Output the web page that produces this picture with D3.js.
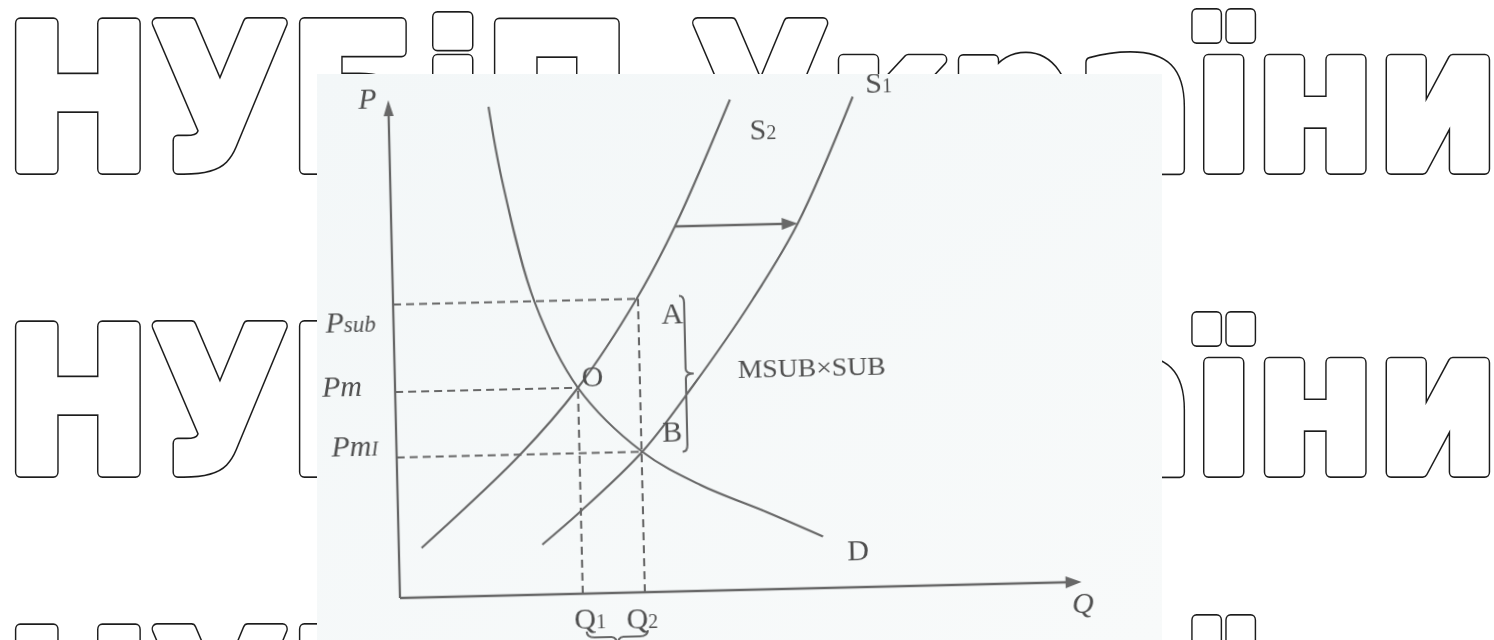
<!DOCTYPE html>
<html>
<head>
<meta charset="utf-8">
<script src="https://cdn.jsdelivr.net/npm/d3@7"></script>
<style>
  html, body { margin: 0; padding: 0; background: #ffffff; }
  svg { display: block; }
</style>
</head>
<body>
<svg id="chart" width="1494" height="640"></svg>
<script>
// ---- Data (quantity Q, price P, in chart units 0–10) ----
const supplyS2 = [[0.33, 0.99], [1.79, 2.81], [2.65, 4.12], [3.53, 5.87], [4.11, 7.30], [4.95, 9.81]];
const supplyS1 = [[2.08, 1.00], [2.64, 1.64], [3.56, 2.81], [4.32, 4.11], [5.21, 5.80], [5.89, 7.30], [6.73, 9.81]];
const demandD  = [[1.45, 9.78], [1.62, 8.31], [2.05, 5.86], [2.65, 4.12], [3.56, 2.81], [4.39, 2.12], [5.35, 1.54], [6.15, 1.03]];

const priceNames   = ["Psub", "Pm", "Pm1"];
const priceValues  = [5.87, 4.12, 2.81];
const quantityNames  = ["Q1", "Q2"];
const quantityValues = [2.65, 3.55];

// supply shift arrow: from S2 to S1 at this price
const shiftPrice = 7.30;
const shiftFromTo = [4.11, 5.89];

const axisMax = [9.88, 9.96];   // Q axis length, P axis length
const watermarkText = "НУБіП України";
const watermarkBaselines = [169, 472, 775];

// ---- Layout ----
const svg = d3.select("#chart");
const x = d3.scaleLinear().domain([0, 10]).range([400, 1090]);
const y = d3.scaleLinear().domain([0, 10]).range([598, 98]);

const ink = "#676767";
const textInk = "#505050";

// watermark lettering: a thin outline offset around each glyph, with rounded corners
const wmSize = 199, wmPad = 6, wmLine = 1.7;
const wm = svg.append("g").attr("class", "watermark");
watermarkBaselines.forEach(b => {
  const row = wm.append("g");
  const outer = row.append("text")
    .attr("x", 0).attr("y", b)
    .attr("font-family", "DejaVu Sans").attr("font-weight", "bold")
    .attr("font-size", wmSize)
    .attr("fill", "#1c1c1c").attr("stroke", "#1c1c1c")
    .attr("stroke-width", 2 * wmPad).attr("stroke-linejoin", "round")
    .text(watermarkText);
  row.append("text")
    .attr("x", 0).attr("y", b)
    .attr("font-family", "DejaVu Sans").attr("font-weight", "bold")
    .attr("font-size", wmSize)
    .attr("fill", "#ffffff").attr("stroke", "#ffffff")
    .attr("stroke-width", 2 * (wmPad - wmLine)).attr("stroke-linejoin", "round")
    .text(watermarkText);
  const bb = outer.node().getBBox();
  const bear = 0.09 * wmSize;
  const sx = (1476 - 2 * wmPad) / (bb.width - 2 * bear);
  const tx = 14 + wmPad - bear * sx;
  row.attr("transform", `translate(${tx},0) scale(${sx},1)`);
});

// scanned panel
svg.append("defs").html(`
  <clipPath id="panelClip"><rect x="317" y="74" width="845" height="566"/></clipPath>
  <linearGradient id="panelFill" x1="0" y1="0" x2="1" y2="1">
    <stop offset="0" stop-color="#f3f7f8"/>
    <stop offset="1" stop-color="#f8fafa"/>
  </linearGradient>
  <filter id="soft" x="-5%" y="-5%" width="110%" height="110%">
    <feGaussianBlur stdDeviation="0.55"/>
  </filter>`);

svg.append("rect")
  .attr("x", 317).attr("y", 74).attr("width", 845).attr("height", 566)
  .attr("fill", "url(#panelFill)");

const panel = svg.append("g").attr("clip-path", "url(#panelClip)");
const g = panel.append("g")
  .attr("filter", "url(#soft)")
  .attr("transform", `rotate(-1.35, ${x(0)}, ${y(0)})`);

// axes
g.append("line")
  .attr("x1", x(0)).attr("y1", y(0)).attr("x2", x(0)).attr("y2", y(axisMax[1]) + 6)
  .attr("stroke", ink).attr("stroke-width", 2.3);
g.append("line")
  .attr("x1", x(0)).attr("y1", y(0)).attr("x2", x(axisMax[0]) - 6).attr("y2", y(0))
  .attr("stroke", ink).attr("stroke-width", 2.3);

function arrowUp(px, py) {
  return `M${px},${py} L${px - 5},${py + 16} L${px + 5},${py + 16} Z`;
}
function arrowRight(px, py) {
  return `M${px},${py} L${px - 16},${py - 6} L${px - 16},${py + 6} Z`;
}
g.append("path").attr("d", arrowUp(x(0), y(axisMax[1]))).attr("fill", ink);
g.append("path").attr("d", arrowRight(x(axisMax[0]), y(0))).attr("fill", ink);

// dashed guide lines
const dash = "8,5";
const guideEnds = [quantityValues[1], quantityValues[0], quantityValues[1]];
priceValues.forEach((p, i) => {
  g.append("line")
    .attr("x1", x(0)).attr("y1", y(p)).attr("x2", x(guideEnds[i])).attr("y2", y(p))
    .attr("stroke", ink).attr("stroke-width", 2.1).attr("stroke-dasharray", dash);
});
const guideTops = [priceValues[1], priceValues[0]];
quantityValues.forEach((q, i) => {
  g.append("line")
    .attr("x1", x(q)).attr("y1", y(0)).attr("x2", x(q)).attr("y2", y(guideTops[i]))
    .attr("stroke", ink).attr("stroke-width", 2.1).attr("stroke-dasharray", dash);
});

// curves
const line = d3.line().x(d => x(d[0])).y(d => y(d[1])).curve(d3.curveCatmullRom.alpha(0.5));
[supplyS2, supplyS1, demandD].forEach(s => {
  g.append("path").attr("d", line(s))
    .attr("fill", "none").attr("stroke", ink).attr("stroke-width", 2.1);
});

// supply shift arrow
g.append("line")
  .attr("x1", x(shiftFromTo[0])).attr("y1", y(shiftPrice))
  .attr("x2", x(shiftFromTo[1]) - 10).attr("y2", y(shiftPrice))
  .attr("stroke", ink).attr("stroke-width", 2.3);
g.append("path").attr("d", arrowRight(x(shiftFromTo[1]), y(shiftPrice))).attr("fill", ink);

// curly brace between A and B
function braceV(x0, yTop, yBot, r, d) {
  const ym = (yTop + yBot) / 2;
  return `M${x0},${yTop} Q${x0 + r},${yTop} ${x0 + r},${yTop + r + 2}
          L${x0 + r},${ym - r} Q${x0 + r},${ym} ${x0 + d},${ym}
          Q${x0 + r},${ym} ${x0 + r},${ym + r}
          L${x0 + r},${yBot - r - 2} Q${x0 + r},${yBot} ${x0},${yBot}`;
}
const braceX = x(quantityValues[1]) + 41;
g.append("path")
  .attr("d", braceV(braceX, y(priceValues[0]) - 2, y(priceValues[2]) + 1, 5, 13))
  .attr("fill", "none").attr("stroke", ink).attr("stroke-width", 2.1);

// brace under Q1–Q2
function braceH(x0, x1, yTop, r, d) {
  const xm = (x0 + x1) / 2;
  return `M${x0},${yTop} Q${x0},${yTop + r} ${x0 + r + 2},${yTop + r}
          L${xm - r},${yTop + r} Q${xm},${yTop + r} ${xm},${yTop + d}
          Q${xm},${yTop + r} ${xm + r},${yTop + r}
          L${x1 - r - 2},${yTop + r} Q${x1},${yTop + r} ${x1},${yTop}`;
}
g.append("path")
  .attr("d", braceH(x(quantityValues[0]) + 3, x(quantityValues[1]) + 2, y(0) + 38, 6, 16))
  .attr("fill", "none").attr("stroke", ink).attr("stroke-width", 2.1);

// labels
const serif = "Liberation Serif, Times New Roman, serif";
function label(tx, ty, main, sub, opts = {}) {
  const t = g.append("text")
    .attr("x", tx).attr("y", ty)
    .attr("font-family", serif)
    .attr("font-size", opts.size || 30)
    .attr("font-style", opts.italic ? "italic" : "normal")
    .attr("fill", textInk)
    .attr("text-anchor", opts.anchor || "start");
  t.append("tspan").text(main);
  if (sub) t.append("tspan").attr("font-size", opts.subSize || 20).text(sub);
  return t;
}

label(x(0) - 30, y(axisMax[1]) + 8, "P", null, { italic: true });
label(x(axisMax[0]) - 10, y(0) + 31, "Q", null, { italic: true });

label(x(0) - 68, y(priceValues[0]) + 27, "P", "sub", { italic: true, subSize: 23 });
label(x(0) - 73, y(priceValues[1]) + 3, "Pm", null, { italic: true });
label(x(0) - 65, y(priceValues[2]) - 2, "Pm", "I", { italic: true, subSize: 20 });

label(x(quantityValues[0]) - 9, y(0) + 35, "Q", "1");
label(x(quantityValues[1]) - 19, y(0) + 36, "Q", "2");

label(x(supplyS2[supplyS2.length - 1][0]) + 19, y(supplyS2[supplyS2.length - 1][1]) + 41, "S", "2");
label(x(supplyS1[supplyS1.length - 1][0]) + 13, y(supplyS1[supplyS1.length - 1][1]) - 3, "S", "1");
label(x(demandD[demandD.length - 1][0]) + 24, y(demandD[demandD.length - 1][1]) + 25, "D");

label(x(quantityValues[1]) + 23, y(priceValues[0]) + 26, "A");
label(x(quantityValues[0]) + 4, y(priceValues[1]) - 1, "O");
label(x(quantityValues[1]) + 21, y(priceValues[2]) - 9, "B");

label(braceX + 57, y(priceValues[1]) - 6, "MSUB×SUB", null, { size: 26 })
  .attr("textLength", 148).attr("lengthAdjust", "spacingAndGlyphs");
</script>
</body>
</html>
